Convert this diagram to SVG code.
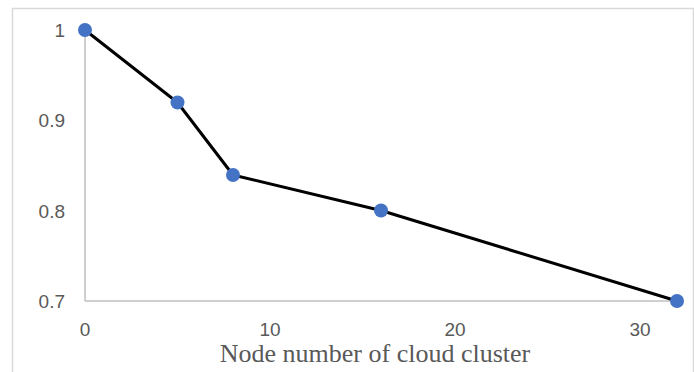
<svg xmlns="http://www.w3.org/2000/svg" width="694" height="372" viewBox="0 0 694 372">
<style>
.tick{font-family:"Liberation Sans","DejaVu Sans",sans-serif;font-size:19px;fill:#595959}
.axis{stroke:#bfbfbf;stroke-width:1.5;fill:none}
.pt{fill:#4472c4}
.title{font-family:"Liberation Serif","Times New Roman",serif;font-size:26px;fill:#595959}
</style>
<rect x="0" y="0" width="694" height="372" fill="#ffffff"/>
<rect x="12.5" y="8.5" width="681" height="380" fill="none" stroke="#d9d9d9" stroke-width="1.5"/>
<g id="axes">
<line class="axis" x1="85" y1="30" x2="85" y2="301"/>
<line class="axis" x1="85" y1="301" x2="677" y2="301"/>
</g>
<g id="ylabels" text-anchor="end">
<text class="tick" x="65" y="37">1</text>
<text class="tick" x="65" y="127">0.9</text>
<text class="tick" x="65" y="218">0.8</text>
<text class="tick" x="65" y="308">0.7</text>
</g>
<g id="xlabels" text-anchor="middle">
<text class="tick" x="85" y="336">0</text>
<text class="tick" x="270" y="336">10</text>
<text class="tick" x="455" y="336">20</text>
<text class="tick" x="640" y="336">30</text>
</g>
<text class="title" x="375" y="362" text-anchor="middle">Node number of cloud cluster</text>
<g id="connectors">
<polyline points="85,30 177.5,102.5 233,175 381,210.5 677,301" fill="none" stroke="#000" stroke-width="3" stroke-linejoin="round"/>
</g>
<g id="p0"><circle class="pt" cx="85" cy="30" r="7"/></g>
<g id="p1"><circle class="pt" cx="177.5" cy="102.5" r="7"/></g>
<g id="p2"><circle class="pt" cx="233" cy="175" r="7"/></g>
<g id="p3"><circle class="pt" cx="381" cy="210.5" r="7"/></g>
<g id="p4"><circle class="pt" cx="677" cy="301" r="7"/></g>
</svg>
